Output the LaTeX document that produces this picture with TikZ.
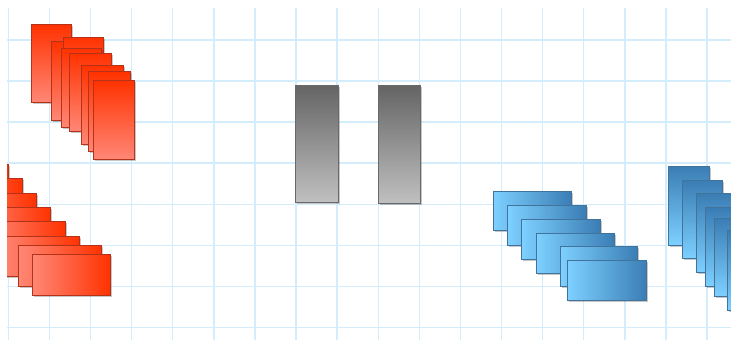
\documentclass[tikz,border=0pt]{standalone}
\definecolor{gridc}{RGB}{212,237,252}
\definecolor{redA}{RGB}{255,50,0}
\definecolor{redB}{RGB}{255,135,118}
\definecolor{redE}{RGB}{180,50,25}
\definecolor{grA}{RGB}{100,100,100}
\definecolor{grB}{RGB}{192,192,192}
\definecolor{grE}{RGB}{105,105,105}
\definecolor{blA}{RGB}{125,208,255}
\definecolor{blB}{RGB}{58,125,180}
\definecolor{blE}{RGB}{65,115,155}
\tikzset{
  shp/.style={line width=1pt},
  redv/.style={shp, draw=redE, top color=redA, bottom color=redB},
  redh/.style={shp, draw=redE, left color=redB, right color=redA},
  grayv/.style={shp, draw=grE, top color=grA, bottom color=grB},
  blueh/.style={shp, draw=blE, left color=blA, right color=blB},
  bluev/.style={shp, draw=blE, top color=blB, bottom color=blA},
  shadowbox/.style={fill=black, opacity=0.22},
  gridline/.style={draw=gridc, line width=1.4pt}
}
\begin{document}
\begin{tikzpicture}[x=1pt,y=-1pt]
\useasboundingbox (0,0) rectangle (731,340);
\fill[white] (0,0) rectangle (731,340);
\begin{scope}
\clip (7,8) rectangle (731,340);
% grid
\foreach \k in {0,...,17} {
  \draw[gridline] ({8.3+41.1*\k},8) -- ({8.3+41.1*\k},340);
}
\foreach \k in {0,...,7} {
  \draw[gridline] (7,{39.8+41.1*\k}) -- (731,{39.8+41.1*\k});
}
% red vertical group (top left)
\foreach \a/\b/\c/\d in {31.5/24/71.7/102.3, 51.5/41.5/91.5/120, 63/37/103.3/115.5,
  61.5/48.5/101.7/127, 69.5/53/111.5/131, 81.7/65.7/123.3/144,
  88.3/71.7/130/151.7, 93.3/80/134.3/159} {
  \fill[shadowbox] (\a+1.5,\b+1.5) rectangle (\c+1.5,\d+1.5);
  \path[redv] (\a,\b) rectangle (\c,\d);
}
% red horizontal group (bottom left)
\foreach \a/\b/\c/\d in {-70/164.3/8/205, -55.5/178.7/22.3/219.4, -41.5/193/36.3/233.7,
  -27/207.3/50.7/248, -12.7/221.7/65/262.4, 1.3/236/79/276.7,
  18.3/245/101.7/286, 32.3/254.3/110.5/295} {
  \fill[shadowbox] (\a+1.5,\b+1.5) rectangle (\c+1.5,\d+1.5);
  \path[redh] (\a,\b) rectangle (\c,\d);
}
% gray pair
\foreach \a/\b/\c/\d in {295/85/338.3/202.3, 378.3/85.5/420.7/203.3} {
  \fill[shadowbox] (\a+1.5,\b+1.5) rectangle (\c+1.5,\d+1.5);
  \path[grayv] (\a,\b) rectangle (\c,\d);
}
% blue horizontal group
\foreach \a/\b/\c/\d in {493.3/191.7/571.7/230.7, 507.7/205/586/245, 521.7/219.3/600/259,
  536/233.3/614.3/273.3, 560/246/637.7/286, 567.7/260.7/646.7/300.7} {
  \fill[shadowbox] (\a+1.5,\b+1.5) rectangle (\c+1.5,\d+1.5);
  \path[blueh] (\a,\b) rectangle (\c,\d);
}
% blue vertical group (right, cut off)
\foreach \a/\b/\c/\d in {668.3/166/709.3/245, 682.3/180/722.7/258.3, 696.7/193.3/737.7/272.7,
  705.7/207.7/746.7/286.7, 714/218.3/755/296, 727.7/230/768.7/310} {
  \fill[shadowbox] (\a+1.5,\b+1.5) rectangle (\c+1.5,\d+1.5);
  \path[bluev] (\a,\b) rectangle (\c,\d);
}
\end{scope}
\end{tikzpicture}
\end{document}
